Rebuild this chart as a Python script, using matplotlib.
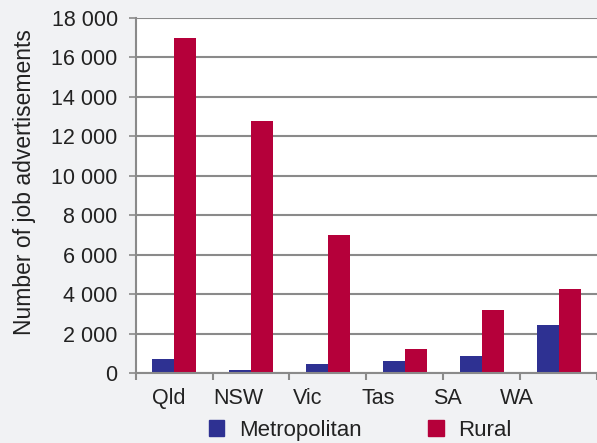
import numpy as np
import matplotlib.pyplot as plt
from matplotlib.patches import Patch

plt.rcParams['font.family'] = ['Liberation Sans', 'DejaVu Sans']

# data
states = ['Qld', 'NSW', 'Vic', 'Tas', 'SA', 'WA']
metropolitan = [700, 150, 450, 600, 850, 2450]
rural = [17000, 12800, 7000, 1200, 3200, 4250]

blue = '#2e3192'
red = '#b5003a'
grey = '#8a8a8a'
txt = '#222222'

fig = plt.figure(figsize=(5.97, 4.43), dpi=100, facecolor='#f1f2f4')
ax = fig.add_axes([0.2273, 0.158, 0.7727, 0.8014])
ax.set_facecolor('white')

x = np.arange(len(states))
w = 0.286
ax.bar(x - w / 2, metropolitan, w, color=blue, zorder=3)
ax.bar(x + w / 2, rural, w, color=red, zorder=3)

ax.set_xlim(-0.5, len(states) - 0.5)
ax.set_ylim(0, 18000)

yt = np.arange(0, 18001, 2000)
ax.set_yticks(yt)
ax.set_yticklabels(['{:,}'.format(v).replace(',', ' ') for v in yt], fontsize=15.5)
ax.yaxis.grid(True, color=grey, lw=1.5, zorder=1)
ax.tick_params(axis='y', length=5, width=1.2, color=grey, pad=8, labelcolor=txt)

# the labels sit a bit left of their bar groups in the original
ax.set_xticks(x * 0.906 - 0.07)
ax.set_xticklabels(states, fontsize=15.5, color=txt)
ax.tick_params(axis='x', which='major', length=0, pad=11)
ax.set_xticks(np.arange(-0.5, len(states)), minor=True)
ax.tick_params(axis='x', which='minor', length=5, width=1.5, color=grey)

for s in ['top', 'right']:
    ax.spines[s].set_visible(False)
for s in ['left', 'bottom']:
    ax.spines[s].set_color(grey)
    ax.spines[s].set_linewidth(1.5)
    ax.spines[s].set_zorder(4)

ax.set_ylabel('Number of job advertisements', fontsize=16.5, color=txt)
ax.yaxis.set_label_coords((36 - 135.7) / (0.7727 * 597), 0.538)

handles = [Patch(color=blue, label='Metropolitan'), Patch(color=red, label='Rural')]
fig.legend(handles=handles, loc='center', bbox_to_anchor=(0.603, 0.029), ncol=2,
           frameon=False, fontsize=16, handlelength=0.7, handleheight=0.7,
           handletextpad=0.65, columnspacing=3.0, labelcolor=txt)

fig.savefig('out.png', dpi=100, facecolor=fig.get_facecolor())
